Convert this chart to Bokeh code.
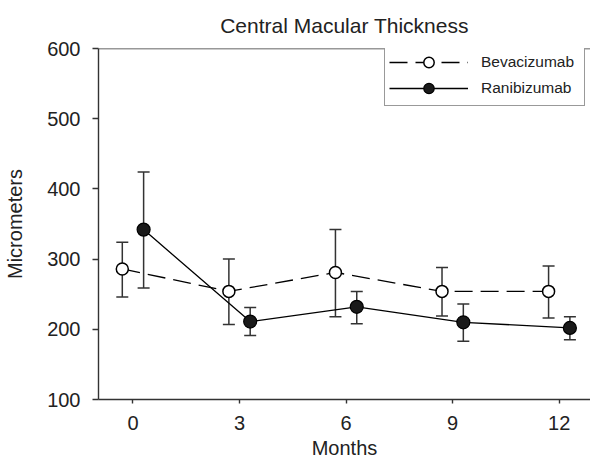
import numpy as np
from bokeh.plotting import figure
from bokeh.models import (ColumnDataSource, Whisker, TeeHead, Legend, LegendItem,
                          FixedTicker, Span, Range1d)
from bokeh.embed import file_html
from bokeh.resources import INLINE

# ---- data ----
months = [0, 3, 6, 9, 12]
bev_mean = [286, 254, 281, 254, 254]
bev_lower = [246, 207, 218, 219, 216]
bev_upper = [324, 300, 342, 288, 290]
ran_mean = [342, 211, 232, 210, 202]
ran_lower = [259, 191, 208, 183, 185]
ran_upper = [424, 231, 254, 236, 218]
x_ticks = [0, 3, 6, 9, 12]
y_ticks = [100, 200, 300, 400, 500, 600]
title_text = "Central Macular Thickness"

FONT = "Liberation Sans"
INK = "#222222"
AX = "#333333"

X0, X1 = -0.97, 12.88
Y0, Y1 = 100, 600

offset = 0.3
bev_src = ColumnDataSource(dict(x=np.array(months) - offset, y=bev_mean,
                                lower=bev_lower, upper=bev_upper))
ran_src = ColumnDataSource(dict(x=np.array(months) + offset, y=ran_mean,
                                lower=ran_lower, upper=ran_upper))

p = figure(width=590, height=461, output_backend="svg", toolbar_location=None,
           x_range=Range1d(X0, X1), y_range=Range1d(Y0, Y1),
           min_border_left=98, min_border_right=0, min_border_top=0,
           min_border_bottom=62, title=title_text)
p.outline_line_color = None
p.grid.visible = False
p.background_fill_color = "white"
p.border_fill_color = "white"

p.title.text_font = FONT
p.title.text_font_size = "21px"
p.title.text_font_style = "normal"
p.title.text_color = INK
p.title.align = "center"
p.title.standoff = 23

for ax in (p.xaxis[0], p.yaxis[0]):
    ax.axis_line_color = AX
    ax.axis_line_width = 1.4
    ax.major_tick_line_color = AX
    ax.major_tick_line_width = 1.4
    ax.major_tick_in = 0
    ax.minor_tick_line_color = None
    ax.major_label_text_font = FONT
    ax.major_label_text_font_size = "20px"
    ax.major_label_text_color = INK
    ax.axis_label_text_font = FONT
    ax.axis_label_text_font_size = "20px"
    ax.axis_label_text_font_style = "normal"
    ax.axis_label_text_color = INK

p.xaxis.ticker = FixedTicker(ticks=x_ticks)
p.yaxis.ticker = FixedTicker(ticks=y_ticks)
p.xaxis.major_tick_out = 4
p.yaxis.major_tick_out = 6
p.xaxis.major_label_standoff = 12
p.yaxis.major_label_standoff = 12
p.xaxis.major_label_text_line_height = 1.0
p.xaxis.axis_label_text_line_height = 1.0
p.xaxis.axis_label = "Months"
p.yaxis.axis_label = "Micrometers"
p.xaxis.axis_label_standoff = 4
p.yaxis.axis_label_standoff = 18

# top frame line
p.add_layout(Span(location=Y1, dimension="width", line_color=AX, line_width=1.4))

# error bars
for src in (bev_src, ran_src):
    p.add_layout(Whisker(source=src, base="x", upper="upper", lower="lower",
                         line_color=AX, line_width=1.5,
                         upper_head=TeeHead(size=12, line_color=AX, line_width=1.5),
                         lower_head=TeeHead(size=12, line_color=AX, line_width=1.5)))

bev_line = p.line("x", "y", source=bev_src, line_color="black", line_width=1.3,
                  line_dash="18 8")
ran_line = p.line("x", "y", source=ran_src, line_color="black", line_width=1.3)
bev_pts = p.scatter("x", "y", source=bev_src, size=12, marker="circle",
                    fill_color="white", line_color="black", line_width=1.5)
ran_pts = p.scatter("x", "y", source=ran_src, size=13, marker="circle",
                    fill_color="#1a1a1a", line_color="black", line_width=1.2)

legend = Legend(items=[LegendItem(label="Bevacizumab", renderers=[bev_line, bev_pts]),
                       LegendItem(label="Ranibizumab", renderers=[ran_line, ran_pts])],
                location=(286, 293), orientation="vertical",
                label_text_font=FONT, label_text_font_size="15.5px",
                label_text_color=INK, glyph_width=79, glyph_height=26,
                label_height=20, label_width=99, label_standoff=13, padding=4,
                spacing=-3, border_line_color=AX, border_line_width=1.2,
                background_fill_color="white", background_fill_alpha=1.0,
                margin=0)
p.add_layout(legend)

open("out.html", "w").write(file_html(p, INLINE))
